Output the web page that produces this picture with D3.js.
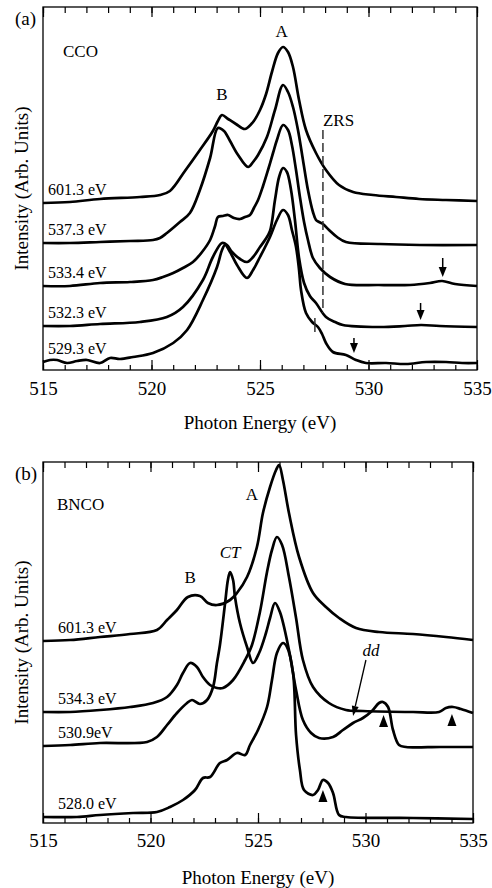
<!DOCTYPE html>
<html>
<head>
<meta charset="utf-8">
<script src="https://d3js.org/d3.v7.min.js"></script>
<style>
  body { margin: 0; background: #fff; }
  svg { display: block; }
  text { font-family: "Liberation Serif", "Times New Roman", serif; fill: #000; }
</style>
</head>
<body>
<div id="chart"></div>
<script>
// ---- data (photon energy in eV, intensity in arb. units incl. offset) ----
var energyTicks = [515, 520, 525, 530, 535];
var minorTicks = d3.range(515, 536);

var ccoNames = ["601.3 eV", "537.3 eV", "533.4 eV", "532.3 eV", "529.3 eV"];
var bncoNames = ["601.3 eV", "534.3 eV", "530.9eV", "528.0 eV"];

var cco601 = [[515.0,16.7],[516.24,16.8],[517.63,17.1],[519.47,17.3],[520.39,17.5],[520.85,17.9],[521.54,19.9],[522.23,22.0],[522.83,23.9],[523.06,24.9],[523.25,25.5],[523.53,25.1],[523.89,24.6],[524.31,24.1],[524.68,24.8],[525.0,26.0],[525.28,27.6],[525.55,29.8],[525.83,31.7],[526.06,32.3],[526.29,31.8],[526.52,30.3],[526.8,27.0],[527.12,24.0],[527.58,21.7],[528.04,20.0],[528.64,18.5],[529.29,17.8],[530.21,17.5],[531.27,17.3],[532.33,17.1],[533.57,17.0],[535.0,16.9]];
var cco537 = [[515.0,12.7],[516.24,12.7],[517.63,12.8],[519.01,12.9],[520.07,13.0],[520.39,13.2],[520.71,13.7],[521.31,14.8],[521.77,15.7],[522.23,18.0],[522.7,21.2],[523.06,24.2],[523.34,23.9],[523.62,22.9],[523.99,21.5],[524.45,20.3],[524.68,20.8],[524.91,21.5],[525.32,23.3],[525.69,26.0],[526.06,28.5],[526.29,27.8],[526.52,26.3],[526.75,24.0],[526.98,21.0],[527.21,18.0],[527.44,15.8],[527.58,15.0],[527.72,14.8],[527.9,14.6],[528.18,14.0],[528.55,13.3],[528.96,12.8],[530.53,12.6],[532.37,12.5],[535.0,12.5]];
var cco533 = [[515.0,8.4],[516.24,8.4],[517.63,8.7],[519.01,8.8],[520.07,9.0],[520.53,9.3],[521.0,9.7],[521.45,10.2],[521.91,10.8],[522.33,11.8],[522.7,13.0],[522.93,14.4],[523.06,15.3],[523.29,15.4],[523.53,15.5],[523.8,15.2],[524.08,15.1],[524.31,15.3],[524.54,15.5],[524.72,16.2],[524.91,17.0],[525.14,18.4],[525.37,20.0],[525.6,21.7],[525.78,23.0],[526.06,24.5],[526.29,24.0],[526.47,22.5],[526.66,20.0],[526.84,17.3],[527.03,14.8],[527.21,13.0],[527.44,11.2],[527.76,10.2],[528.23,9.3],[528.92,8.6],[530.48,8.5],[531.91,8.5],[532.83,8.7],[533.39,8.9],[533.99,8.6],[535.0,8.4]];
var cco532 = [[515.0,4.4],[516.24,4.4],[517.63,4.6],[519.47,4.8],[520.71,5.3],[521.45,6.3],[522.37,9.0],[522.83,11.3],[523.25,12.7],[523.48,12.5],[523.71,11.8],[524.08,11.1],[524.4,10.8],[524.68,11.3],[525.0,12.3],[525.23,13.0],[525.46,13.9],[525.69,17.0],[525.88,19.3],[526.06,20.2],[526.24,19.8],[526.43,18.0],[526.61,15.0],[526.8,11.2],[527.03,8.7],[527.3,7.4],[527.58,6.7],[528.04,5.3],[528.46,4.8],[528.82,4.5],[530.48,4.3],[531.68,4.4],[532.42,4.5],[533.29,4.4],[535.0,4.3]];
var cco529 = [[515.0,0.8],[515.32,1.0],[515.65,1.0],[516.11,0.7],[516.57,0.9],[517.03,1.0],[517.63,0.7],[518.09,1.2],[518.55,1.1],[519.15,1.3],[520.07,1.7],[521.0,2.7],[521.64,4.0],[522.37,7.0],[523.02,10.3],[523.25,12.0],[523.39,12.5],[523.62,11.8],[523.94,10.5],[524.4,9.2],[524.68,10.0],[525.0,11.3],[525.46,13.3],[525.78,15.0],[526.06,16.0],[526.29,15.5],[526.47,14.0],[526.66,12.3],[526.8,10.0],[526.89,8.0],[527.12,5.7],[527.4,4.8],[527.67,4.3],[527.86,3.6],[528.04,2.7],[528.36,1.8],[528.96,1.5],[529.42,1.0],[529.88,0.7],[530.81,0.7],[531.73,0.6],[532.65,0.8],[533.57,0.8],[534.31,0.7],[535.0,0.7]];

var bnco601 = [[515.0,18.2],[516.26,18.3],[517.65,18.6],[519.05,18.9],[520.3,19.3],[520.77,20.3],[521.23,21.3],[521.74,22.6],[522.3,22.7],[522.67,22.0],[523.09,21.8],[523.7,22.3],[524.02,23.0],[524.49,24.6],[524.95,27.6],[525.23,31.0],[525.56,33.6],[525.84,35.3],[525.98,35.8],[526.16,34.3],[526.44,31.0],[526.91,26.6],[527.56,23.0],[528.16,21.6],[528.77,20.5],[529.56,19.5],[530.63,19.1],[532.21,18.9],[533.74,18.6],[535.0,18.3]];
var bnco534 = [[515.0,11.1],[516.26,11.1],[517.65,11.3],[519.05,11.6],[520.12,12.0],[520.77,12.6],[521.23,13.8],[521.51,15.0],[521.84,16.0],[522.16,15.6],[522.44,14.6],[522.77,13.8],[523.09,13.5],[523.37,13.5],[523.84,14.3],[524.4,16.3],[524.72,17.8],[525.09,21.1],[525.42,25.1],[525.65,27.3],[525.88,28.6],[526.12,27.8],[526.44,24.6],[526.77,20.5],[527.09,16.3],[527.56,13.6],[528.3,12.0],[529.09,11.3],[529.88,11.2],[532.21,11.1],[533.42,11.1],[533.74,11.5],[534.07,11.6],[534.44,11.4],[535.0,11.0]];
var bnco530 = [[515.0,7.7],[516.26,7.8],[517.65,8.0],[519.84,8.1],[520.3,8.6],[520.77,9.8],[521.23,11.0],[521.7,12.0],[521.93,12.3],[522.3,11.9],[522.63,12.3],[522.91,13.6],[523.09,16.0],[523.23,17.8],[523.47,22.0],[523.6,24.3],[523.7,25.1],[523.84,24.3],[523.93,22.6],[524.16,20.0],[524.49,17.6],[524.77,16.0],[525.05,17.0],[525.37,19.0],[525.56,20.5],[525.79,22.0],[526.02,21.1],[526.44,17.3],[526.77,13.3],[527.09,10.3],[527.47,9.0],[527.84,8.5],[528.49,8.6],[528.95,9.3],[529.42,10.0],[529.88,10.5],[530.3,11.2],[530.63,12.0],[530.81,12.1],[531.05,11.6],[531.28,9.3],[531.56,7.8],[531.88,7.6],[533.47,7.6],[535.0,7.6]];
var bnco528 = [[515.0,0.6],[516.58,0.6],[517.65,0.8],[519.19,1.0],[520.3,1.1],[520.91,1.6],[521.51,2.3],[522.07,3.3],[522.44,4.5],[522.77,4.6],[523.23,6.0],[523.56,6.3],[524.02,7.0],[524.4,6.8],[524.63,7.8],[525.0,9.3],[525.42,11.6],[525.65,14.3],[525.88,17.0],[526.16,18.0],[526.35,17.6],[526.63,15.0],[526.77,8.8],[526.95,5.3],[527.14,3.3],[527.56,2.8],[527.79,3.3],[528.02,4.3],[528.26,4.0],[528.49,3.0],[528.77,0.8],[529.09,0.6],[532.21,0.5],[535.0,0.4]];

// arrows: [energy, start, tip]  /  markers: [energy, base]
var ccoArrows = [[533.42, 11.2, 9.3], [532.4, 6.7, 5.0], [529.33, 3.2, 1.7]];
var bncoMarkers = [[528.02, 2.1], [530.84, 9.6], [534.02, 9.7]];
var zrsEnergy = 527.9;

var svg = d3.select("#chart").append("svg")
  .attr("width", 492).attr("height", 888);

var line = function (x, y) {
  return d3.line()
    .x(function (d) { return x(d[0]); })
    .y(function (d) { return y(d[1]); })
    .curve(d3.curveCatmullRom.alpha(0.5));
};

function drawPanel(p) {
  var x = d3.scaleLinear().domain([515, 535]).range([p.left, p.right]);
  var y = d3.scaleLinear().domain([0, p.yMax]).range([p.bottom, p.top]);
  var g = svg.append("g");

  // ticks (inward, top and bottom)
  g.append("g").attr("transform", "translate(0," + p.bottom + ")")
    .call(d3.axisBottom(x).tickValues(minorTicks).tickSize(-5).tickFormat(""));
  g.append("g").attr("transform", "translate(0," + p.bottom + ")")
    .call(d3.axisBottom(x).tickValues(energyTicks).tickSize(-10).tickPadding(p.pad).tickFormat(d3.format("d")))
    .attr("font-size", 19);
  g.append("g").attr("transform", "translate(0," + p.top + ")")
    .call(d3.axisTop(x).tickValues(minorTicks).tickSize(-6).tickFormat(""));
  g.append("g").attr("transform", "translate(0," + p.top + ")")
    .call(d3.axisTop(x).tickValues(energyTicks).tickSize(-10).tickFormat(""));
  g.selectAll(".domain").remove();
  g.selectAll(".tick line").attr("stroke", "#000").attr("stroke-width", 1.2);
  g.selectAll(".tick text").style("font-family", '"Liberation Serif", "Times New Roman", serif');

  g.append("rect")
    .attr("x", p.left).attr("y", p.top)
    .attr("width", p.right - p.left).attr("height", p.bottom - p.top)
    .attr("fill", "none").attr("stroke", "#000").attr("stroke-width", 1.3);

  // spectra
  p.curves.forEach(function (c, i) {
    g.append("path").datum(c)
      .attr("d", line(x, y))
      .attr("fill", "none").attr("stroke", "#000")
      .attr("stroke-width", 2.7).attr("stroke-linejoin", "round");
    g.append("text")
      .attr("x", p.left + p.nameDx)
      .attr("y", y(c[0][1]) - 8)
      .attr("font-size", 16)
      .text(p.names[i]);
  });

  // axis titles
  g.append("text")
    .attr("x", (p.left + p.right) / 2).attr("y", p.titleY)
    .attr("text-anchor", "middle").attr("font-size", 19)
    .text("Photon Energy (eV)");
  g.append("text")
    .attr("transform", "translate(28," + (p.top + p.bottom) / 2 + ") rotate(-90)")
    .attr("text-anchor", "middle").attr("font-size", 19)
    .text("Intensity (Arb. Units)");
  g.append("text").attr("x", 15).attr("y", p.top + 18)
    .attr("font-size", 19).text(p.tag);
  g.append("text").attr("x", p.sample[1]).attr("y", p.sample[2])
    .attr("font-size", 17).text(p.sample[0]);

  return { g: g, x: x, y: y };
}

// ---- panel (a) ----
var a = drawPanel({
  left: 43, right: 477, top: 7, bottom: 370, yMax: 36.3, pad: 12, titleY: 429,
  curves: [cco601, cco537, cco533, cco532, cco529], names: ccoNames, nameDx: 5,
  tag: "(a)", sample: ["CCO", 63, 57]
});

a.g.append("line")
  .attr("x1", a.x(zrsEnergy)).attr("x2", a.x(zrsEnergy))
  .attr("y1", a.y(24.0)).attr("y2", a.y(5.7))
  .attr("stroke", "#333").attr("stroke-width", 1.5).attr("stroke-dasharray", "9,4");
a.g.append("line")
  .attr("x1", a.x(527.53)).attr("x2", a.x(527.53))
  .attr("y1", a.y(5.2)).attr("y2", a.y(3.8))
  .attr("stroke", "#333").attr("stroke-width", 1.5);
a.g.append("text").attr("x", a.x(zrsEnergy)).attr("y", 126)
  .attr("font-size", 17).text("ZRS");
a.g.append("text").attr("x", a.x(523.25)).attr("y", 100)
  .attr("text-anchor", "middle").attr("font-size", 17).text("B");
a.g.append("text").attr("x", a.x(526.0)).attr("y", 37)
  .attr("text-anchor", "middle").attr("font-size", 17).text("A");

ccoArrows.forEach(function (d) {
  var xx = a.x(d[0]), y0 = a.y(d[1]), y1 = a.y(d[2]);
  a.g.append("line").attr("x1", xx).attr("x2", xx)
    .attr("y1", y0).attr("y2", y1 - 8)
    .attr("stroke", "#000").attr("stroke-width", 1.5);
  a.g.append("path")
    .attr("d", "M" + (xx - 4) + "," + (y1 - 10) + "L" + (xx + 4) + "," + (y1 - 10) + "L" + xx + "," + y1 + "Z")
    .attr("fill", "#000");
});

// ---- panel (b) ----
var b = drawPanel({
  left: 43, right: 473, top: 462, bottom: 823, yMax: 36.1, pad: 11, titleY: 884,
  curves: [bnco601, bnco534, bnco530, bnco528], names: bncoNames, nameDx: 15,
  tag: "(b)", sample: ["BNCO", 57, 510]
});

b.g.append("text").attr("x", b.x(521.84)).attr("y", 583)
  .attr("text-anchor", "middle").attr("font-size", 17).text("B");
b.g.append("text").attr("x", b.x(523.7)).attr("y", 558)
  .attr("text-anchor", "middle").attr("font-size", 17).attr("font-style", "italic").text("CT");
b.g.append("text").attr("x", b.x(524.72)).attr("y", 500)
  .attr("text-anchor", "middle").attr("font-size", 17).text("A");
b.g.append("text").attr("x", b.x(530.25)).attr("y", 656)
  .attr("text-anchor", "middle").attr("font-size", 17).attr("font-style", "italic").text("dd");

// dd arrow
(function () {
  var x0 = b.x(530.02), y0 = b.y(16.3), x1 = b.x(529.42), y1 = b.y(10.7);
  var ang = Math.atan2(y1 - y0, x1 - x0), L = 10, W = 3.5;
  var bx = x1 - L * Math.cos(ang), by = y1 - L * Math.sin(ang);
  b.g.append("line").attr("x1", x0).attr("y1", y0).attr("x2", bx).attr("y2", by)
    .attr("stroke", "#000").attr("stroke-width", 1.3);
  b.g.append("path")
    .attr("d", "M" + x1 + "," + y1 +
      "L" + (bx + W * Math.sin(ang)) + "," + (by - W * Math.cos(ang)) +
      "L" + (bx - W * Math.sin(ang)) + "," + (by + W * Math.cos(ang)) + "Z")
    .attr("fill", "#000");
})();

bncoMarkers.forEach(function (d) {
  var xx = b.x(d[0]), yb = b.y(d[1]);
  b.g.append("path")
    .attr("d", "M" + (xx - 4.5) + "," + yb + "L" + (xx + 4.5) + "," + yb + "L" + xx + "," + (yb - 12) + "Z")
    .attr("fill", "#000");
});
</script>
</body>
</html>
